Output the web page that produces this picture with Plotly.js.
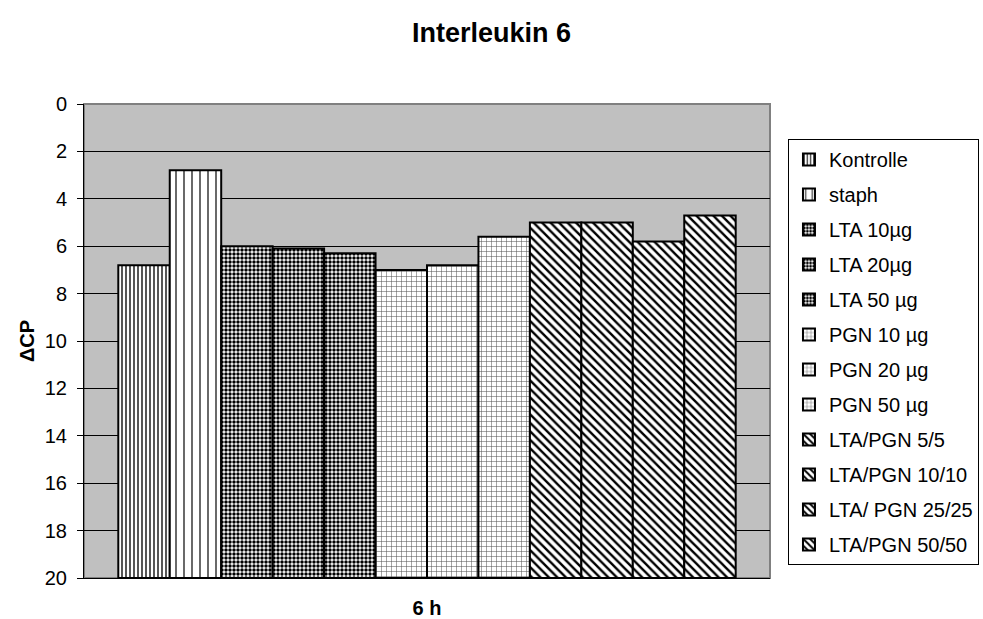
<!DOCTYPE html>
<html><head><meta charset="utf-8">
<script src="https://cdn.plot.ly/plotly-3.0.1.min.js"></script>
<style>html,body{margin:0;padding:0;background:#fff}#chart{width:983px;height:619px}</style>
</head><body><div id="chart"></div>
<script>
const category = ["6 h"];
const seriesNames = ["Kontrolle","staph","LTA 10µg","LTA 20µg","LTA 50 µg","PGN 10 µg","PGN 20 µg","PGN 50 µg","LTA/PGN 5/5","LTA/PGN 10/10","LTA/ PGN 25/25","LTA/PGN 50/50"];
const deltaCP = [6.8, 2.8, 6.0, 6.1, 6.3, 7.0, 6.8, 5.6, 5.0, 5.0, 5.8, 4.7];
const axisMax = 20;

const patterns = [
  {shape:"|", size:4, solidity:0.45, fgcolor:"#444"},
  {shape:"|", size:8, solidity:0.2, fgcolor:"#444"},
  {shape:".", size:4, solidity:0.6, fgcolor:"#000"},
  {shape:".", size:4, solidity:0.6, fgcolor:"#000"},
  {shape:".", size:4, solidity:0.6, fgcolor:"#000"},
  {shape:"+", size:5, solidity:0.2, fgcolor:"#555"},
  {shape:"+", size:5, solidity:0.2, fgcolor:"#555"},
  {shape:"+", size:5, solidity:0.2, fgcolor:"#555"},
  {shape:"\\", size:6, solidity:0.4, fgcolor:"#000"},
  {shape:"\\", size:6, solidity:0.4, fgcolor:"#000"},
  {shape:"\\", size:6, solidity:0.4, fgcolor:"#000"},
  {shape:"\\", size:6, solidity:0.4, fgcolor:"#000"}
];

const font = "Arial, Liberation Sans, sans-serif";
const traces = seriesNames.map((n,i)=>({
  type:"bar", name:n, x:category, y:[deltaCP[i]-axisMax], base:axisMax,
  legendgroup:"g"+i,
  marker:{color:"#fff", line:{color:"#000", width:2},
    pattern:Object.assign({bgcolor:"#fff", fillmode:"replace"}, patterns[i])},
  hoverinfo:"name"
}));

const layout = {
  width:983, height:619,
  margin:{l:84, r:213, t:104, b:41},
  paper_bgcolor:"#fff", plot_bgcolor:"#c0c0c0",
  font:{family:font, size:20, color:"#000"},
  title:{text:"<b>Interleukin 6</b>", x:0.5, xanchor:"center", y:0.948, yanchor:"middle", font:{family:font, size:27}},
  barmode:"group", bargap:0.1, bargroupgap:0,
  xaxis:{showticklabels:false, ticks:"", showline:true, linecolor:"#000", linewidth:1,
    title:{text:"<b>6 h</b>", standoff:22, font:{family:font, size:20}}},
  yaxis:{range:[20,0], tickvals:[0,2,4,6,8,10,12,14,16,18,20], ticks:"outside", ticklen:6, tickcolor:"#000",
    ticklabelstandoff:6,
    showline:true, linecolor:"#000", linewidth:1, gridcolor:"#000", gridwidth:1, zeroline:false,
    tickfont:{family:font, size:20},
    title:{text:"<b>ΔCP</b>", standoff:4, font:{family:font, size:20}}},
  legend:{xref:"container", x:0.8016, xanchor:"left", y:0.926, yanchor:"top",
    bgcolor:"#fff", bordercolor:"#000", borderwidth:1,
    font:{family:font, size:20}, traceorder:"grouped", tracegroupgap:6, itemwidth:30},
  shapes:[{type:"rect", xref:"paper", yref:"paper", x0:0, x1:1, y0:0, y1:1, line:{color:"#808080", width:2}, layer:"below"}]
};
Plotly.newPlot("chart", traces, layout, {displayModeBar:false});
</script></body></html>
